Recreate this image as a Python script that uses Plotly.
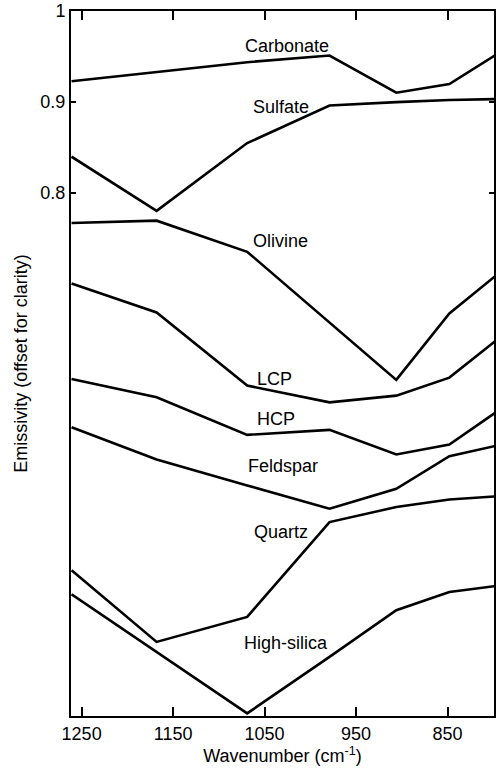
import plotly.graph_objects as go

# THEMIS band centres, bands 3-9 (cm^-1)
wavenumber = [1261, 1168, 1069, 979, 906, 848, 796]

carbonate = [0.9227, 0.9330, 0.9436, 0.9510, 0.9100, 0.9195, 0.9524]
sulfate = [0.8396, 0.7800, 0.8546, 0.8960, 0.8997, 0.9020, 0.9030]
olivine = [0.7667, 0.7692, 0.7349, 0.6573, 0.5939, 0.6670, 0.7096]
lcp = [0.7000, 0.6681, 0.5876, 0.5692, 0.5766, 0.5964, 0.6381]
hcp = [0.5950, 0.5747, 0.5334, 0.5389, 0.5118, 0.5228, 0.5590]
feldspar = [0.5418, 0.5063, 0.4777, 0.4521, 0.4740, 0.5099, 0.5216]
quartz = [0.3843, 0.3055, 0.3330, 0.4374, 0.4539, 0.4623, 0.4658]
high_silica = [0.3579, 0.2945, 0.2268, 0.2890, 0.3403, 0.3604, 0.3671]

series = [carbonate, sulfate, olivine, lcp, hcp, feldspar, quartz, high_silica]

# label text and anchor position (wavenumber, emissivity)
label_text = ["Carbonate", "Sulfate", "Olivine", "LCP", "HCP", "Feldspar", "Quartz", "High-silica"]
label_x = [1025.5, 1032, 1033, 1039.6, 1037.5, 1029.6, 1032, 1026.5]
label_y = [0.9612, 0.8942, 0.7469, 0.5953, 0.5513, 0.4986, 0.4261, 0.3040]

y_ticks = [0.8, 0.9, 1.0]
x_ticks = [1250, 1150, 1050, 950, 850]

FONT = "Liberation Sans, Arial, sans-serif"

fig = go.Figure()
for vals in series:
    fig.add_trace(go.Scatter(x=wavenumber, y=vals, mode="lines",
                             line=dict(color="black", width=2.6),
                             showlegend=False, hoverinfo="skip"))

for t, x, y in zip(label_text, label_x, label_y):
    fig.add_annotation(x=x, y=y, text=t, showarrow=False,
                       font=dict(family=FONT, size=18, color="black"),
                       xanchor="center", yanchor="middle")

fig.update_layout(
    width=496, height=768,
    margin=dict(l=71, r=0, t=11, b=52),
    paper_bgcolor="white", plot_bgcolor="white",
    font=dict(family=FONT, size=18, color="black"),
)
fig.update_xaxes(
    range=[1261.6, 799.2], tickvals=x_ticks,
    ticks="inside", ticklen=9, tickwidth=2, tickcolor="black",
    showline=True, linewidth=2, linecolor="black", mirror="ticks",
    showgrid=False, zeroline=False,
    tickfont=dict(family=FONT, size=18),
    title=dict(text="Wavenumber (cm<sup>-1</sup>)", font=dict(family=FONT, size=18), standoff=2),
)
fig.update_yaxes(
    range=[0.2239, 1.0], tickvals=y_ticks,
    ticks="inside", ticklen=5, tickwidth=2, tickcolor="black",
    showline=True, linewidth=2, linecolor="black", mirror="ticks",
    showgrid=False, zeroline=False,
    tickfont=dict(family=FONT, size=18),
    title=dict(text="Emissivity (offset for clarity)", font=dict(family=FONT, size=18), standoff=8),
)

fig.write_html("out.html")
